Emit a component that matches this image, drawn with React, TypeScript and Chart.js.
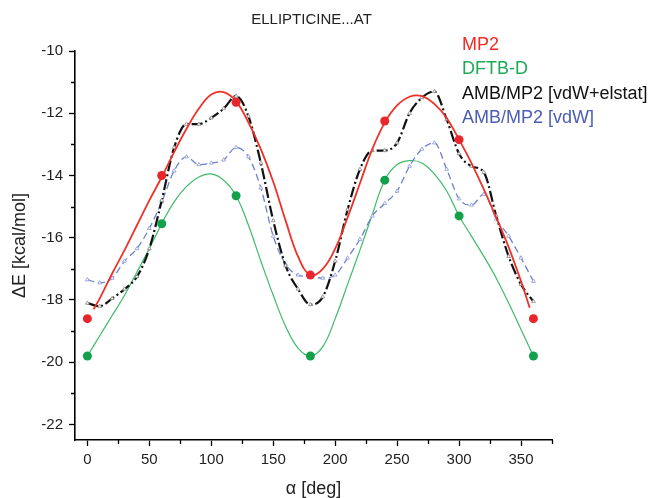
import React, { useEffect, useRef } from "react";
import { Chart, registerables } from "chart.js";

Chart.register(...registerables);

const FONT = "'Liberation Sans', Arial, Helvetica, sans-serif";

const chartTitle = "ELLIPTICINE...AT";
const xTitle = "α [deg]";
const yTitle = "ΔE [kcal/mol]";

// Computed points (filled circles)
const pointAngles = [0, 60, 120, 180, 240, 300, 360];
const mp2Points = [-18.6, -14.0, -11.65, -17.2, -12.25, -12.85, -18.6];
const dftbPoints = [-19.8, -15.55, -14.65, -19.8, -14.15, -15.3, -19.8];

// Fitted MP2 curve (red)
const mp2CurveAngles = [5, 10, 20, 30, 40, 50, 60, 70, 80, 90, 100, 110, 120, 130, 140, 150, 160, 170, 180, 190, 200, 210, 220, 230, 240, 250, 260, 270, 280, 290, 300, 310, 320, 330, 340, 350, 357];
const mp2Curve = [-18.3, -17.95, -17.15, -16.4, -15.6, -14.8, -14.05, -13.25, -12.5, -11.85, -11.4, -11.32, -11.62, -12.3, -13.15, -14.2, -15.45, -16.6, -17.2, -17.0, -16.35, -15.35, -14.25, -13.15, -12.3, -11.75, -11.47, -11.45, -11.7, -12.15, -12.85, -13.6, -14.45, -15.35, -16.3, -17.4, -18.25];

// Fitted DFTB-D curve (green)
const dftbCurveAngles = [0, 10, 20, 30, 40, 50, 60, 70, 80, 90, 100, 110, 120, 130, 140, 150, 160, 170, 180, 190, 200, 210, 220, 230, 240, 250, 260, 270, 280, 290, 300, 310, 320, 330, 340, 350, 360];
const dftbCurve = [-19.8, -19.15, -18.5, -17.85, -17.1, -16.35, -15.55, -14.85, -14.35, -14.05, -13.95, -14.15, -14.65, -15.6, -16.75, -17.85, -18.85, -19.55, -19.8, -19.5, -18.6, -17.5, -16.4, -15.25, -14.15, -13.65, -13.52, -13.6, -13.95, -14.5, -15.3, -15.95, -16.6, -17.3, -18.1, -18.95, -19.8];

// AMB/MP2 scans
const ambAngles = [0, 10, 20, 30, 40, 50, 60, 70, 80, 90, 100, 110, 120, 130, 140, 150, 160, 170, 180, 190, 200, 210, 220, 230, 240, 250, 260, 270, 280, 290, 300, 310, 320, 330, 340, 350, 360];
const ambElstat = [-18.1, -18.2, -17.95, -17.65, -17.25, -16.35, -14.8, -13.1, -12.35, -12.35, -12.15, -11.85, -11.45, -12.1, -13.6, -15.45, -16.9, -17.65, -18.15, -17.9, -16.75, -15.1, -13.8, -13.2, -13.2, -12.95, -12.0, -11.5, -11.3, -12.2, -13.3, -13.7, -13.9, -15.3, -16.6, -17.5, -18.05];
const ambVdw = [-17.35, -17.45, -17.3, -16.75, -16.35, -15.7, -14.85, -13.85, -13.4, -13.65, -13.6, -13.5, -13.1, -13.4, -14.4, -15.95, -16.85, -17.2, -17.25, -17.3, -17.2, -16.65, -16.05, -15.3, -14.9, -14.5, -13.7, -13.15, -12.95, -13.8, -14.75, -14.95, -14.6, -15.4, -15.95, -16.65, -17.4];

const xTicks = [0, 50, 100, 150, 200, 250, 300, 350];
const xMinorTicks = [25, 75, 125, 175, 225, 275, 325, 375];
const yTicks = [-22, -20, -18, -16, -14, -12, -10];
const yMinorTicks = [-21, -19, -17, -15, -13, -11];

const legendLabels = ["MP2", "DFTB-D", "AMB/MP2 [vdW+elstat]", "AMB/MP2 [vdW]"];
const legendColors = ["#ee2c24", "#1fa955", "#111111", "#4b5cb6"];

const zip = (xs: number[], ys: number[]) => xs.map((x, i) => ({ x, y: ys[i] }));

const decorPlugin = {
  id: "decor",
  afterDraw(chart: any) {
    const { ctx, chartArea, scales } = chart;
    const xs = scales.x;
    const ys = scales.y;
    ctx.save();
    // minor ticks
    ctx.strokeStyle = "#000";
    ctx.lineWidth = 1.3;
    ctx.beginPath();
    xMinorTicks.forEach((v) => {
      const px = Math.round(xs.getPixelForValue(v)) + 0.5;
      ctx.moveTo(px, chartArea.bottom);
      ctx.lineTo(px, chartArea.bottom + 4);
    });
    yMinorTicks.forEach((v) => {
      const py = Math.round(ys.getPixelForValue(v)) + 0.5;
      ctx.moveTo(chartArea.left - 4, py);
      ctx.lineTo(chartArea.left, py);
    });
    ctx.stroke();
    // title
    ctx.fillStyle = "#222";
    ctx.font = `15px ${FONT}`;
    ctx.textAlign = "center";
    ctx.textBaseline = "middle";
    ctx.fillText(chartTitle, (chartArea.left + chartArea.right) / 2 - 2, 20);
    // legend (text only)
    ctx.font = `18px ${FONT}`;
    ctx.textAlign = "left";
    const ly = [45, 69.5, 94, 118];
    legendLabels.forEach((t, i) => {
      ctx.fillStyle = legendColors[i];
      ctx.fillText(t, 462, ly[i]);
    });
    ctx.restore();
  },
};

export default function App() {
  const ref = useRef<HTMLCanvasElement | null>(null);

  useEffect(() => {
    if (!ref.current) return;
    const chart = new Chart(ref.current, {
      type: "line",
      data: {
        datasets: [
          {
            label: "MP2 points",
            data: zip(pointAngles, mp2Points),
            showLine: false,
            pointRadius: 4.5,
            pointBackgroundColor: "#e8262b",
            pointBorderColor: "#e8262b",
            pointBorderWidth: 0,
            order: 0,
          },
          {
            label: "DFTB-D points",
            data: zip(pointAngles, dftbPoints),
            showLine: false,
            pointRadius: 4.5,
            pointBackgroundColor: "#13a04b",
            pointBorderColor: "#13a04b",
            pointBorderWidth: 0,
            order: 1,
          },
          {
            label: "MP2",
            data: zip(mp2CurveAngles, mp2Curve),
            borderColor: "#ee3228",
            borderWidth: 1.8,
            pointRadius: 0,
            tension: 0.4,
            order: 2,
          },
          {
            label: "DFTB-D",
            data: zip(dftbCurveAngles, dftbCurve),
            borderColor: "#3dba68",
            borderWidth: 1.2,
            pointRadius: 0,
            tension: 0.4,
            order: 5,
          },
          {
            label: "AMB/MP2 [vdW+elstat]",
            data: zip(ambAngles, ambElstat),
            borderColor: "#111",
            borderWidth: 2.2,
            borderDash: [11, 3, 2, 3],
            pointStyle: "triangle",
            pointRadius: 2.2,
            pointBackgroundColor: "#fff",
            pointBorderColor: "#888",
            pointBorderWidth: 0.8,
            cubicInterpolationMode: "monotone",
            order: 3,
          },
          {
            label: "AMB/MP2 [vdW]",
            data: zip(ambAngles, ambVdw),
            borderColor: "#6f7fd2",
            borderWidth: 1.3,
            borderDash: [7, 4],
            pointStyle: "triangle",
            pointRadius: 2.2,
            pointBackgroundColor: "#fff",
            pointBorderColor: "#8a96d8",
            pointBorderWidth: 0.8,
            cubicInterpolationMode: "monotone",
            order: 4,
          },
        ],
      },
      options: {
        animation: false,
        responsive: false,
        maintainAspectRatio: false,
        layout: { padding: { left: 0, right: 101, top: 51, bottom: 0 } },
        plugins: {
          legend: { display: false },
          tooltip: { enabled: false },
          title: { display: false },
        },
        scales: {
          x: {
            type: "linear",
            min: -10,
            max: 375,
            afterBuildTicks: (s: any) => {
              s.ticks = xTicks.map((v) => ({ value: v }));
            },
            afterFit: (s: any) => {
              s.height = 58;
            },
            grid: { drawOnChartArea: false, drawTicks: true, tickLength: 6, tickColor: "#000", tickWidth: 1.3 },
            border: { display: true, color: "#000", width: 1.6 },
            ticks: { font: { family: FONT, size: 15 }, color: "#222", padding: 5, maxRotation: 0, autoSkip: false },
            title: { display: true, text: xTitle, font: { family: FONT, size: 18, lineHeight: 1 }, color: "#222", padding: { top: 0, bottom: 0 } },
          },
          y: {
            type: "linear",
            min: -22.5,
            max: -10,
            afterBuildTicks: (s: any) => {
              s.ticks = yTicks.map((v) => ({ value: v }));
            },
            afterFit: (s: any) => {
              s.width = 75;
            },
            grid: { drawOnChartArea: false, drawTicks: true, tickLength: 6, tickColor: "#000", tickWidth: 1.3 },
            border: { display: true, color: "#000", width: 1.6 },
            ticks: { font: { family: FONT, size: 15 }, color: "#222", padding: 6, autoSkip: false },
            title: { display: true, text: yTitle, font: { family: FONT, size: 18, lineHeight: 1 }, color: "#222", padding: { top: 11, bottom: 0 } },
          },
        },
      },
      plugins: [decorPlugin],
    } as any);
    return () => chart.destroy();
  }, []);

  return (
    <div style={{ position: "absolute", left: 0, top: 0, width: 653, height: 498, background: "#fff" }}>
      <canvas ref={ref} width={653} height={498} style={{ display: "block", width: 653, height: 498 }} />
    </div>
  );
}
